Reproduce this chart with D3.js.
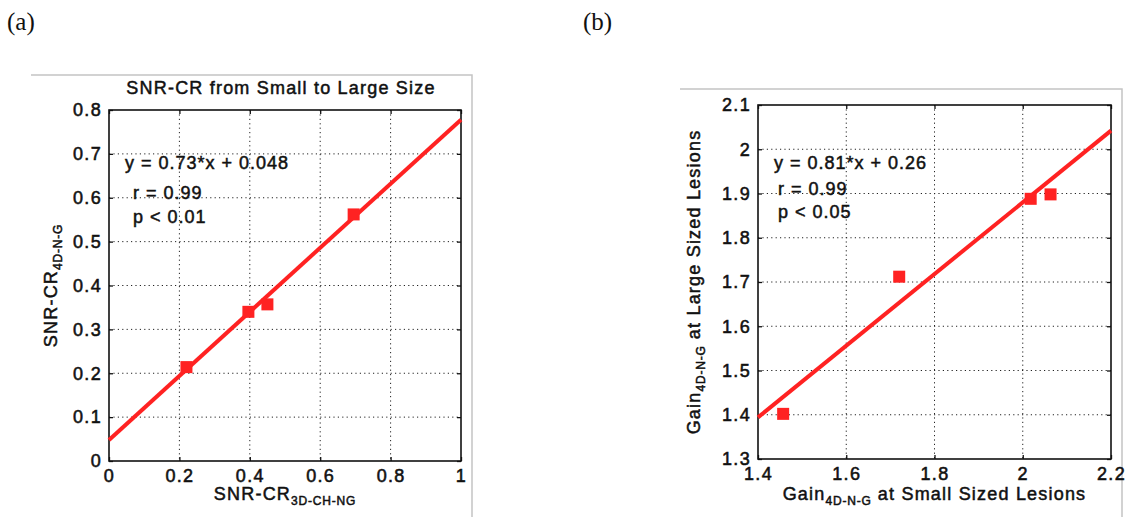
<!DOCTYPE html>
<html>
<head>
<meta charset="utf-8">
<style>
body { margin: 0; background: #fff; }
svg text { font-family: "Liberation Sans", Arial, sans-serif; fill: #111; }
.tick text { font-size: 18px; stroke: #111; stroke-width: 0.55px; letter-spacing: 1.3px; }
.ann { font-size: 18px; stroke: #111; stroke-width: 0.5px; letter-spacing: 1px; }
.lab { font-size: 18px; stroke: #111; stroke-width: 0.5px; letter-spacing: 1.2px; }
.panel-tag { font-family: "Liberation Serif", "Times New Roman", serif; font-size: 25px; }
</style>
</head>
<body>
<svg width="1129" height="517"></svg>
<script src="https://cdn.jsdelivr.net/npm/d3@7"></script>
<script>

// panel (a): SNR-CR, small vs large
var aX = [0.22, 0.396, 0.45, 0.695];
var aY = [0.214, 0.340, 0.357, 0.562];
var aFit = [0.73, 0.048];
var aXTicks = [0, 0.2, 0.4, 0.6, 0.8, 1];
var aYTicks = [0, 0.1, 0.2, 0.3, 0.4, 0.5, 0.6, 0.7, 0.8];
var aAnn = ["y = 0.73*x + 0.048", "r = 0.99", "p < 0.01"];

// panel (b): Gain, small vs large
var bX = [1.457, 1.72, 2.018, 2.063];
var bY = [1.402, 1.712, 1.888, 1.898];
var bFit = [0.81, 0.26];
var bXTicks = [1.4, 1.6, 1.8, 2, 2.2];
var bYTicks = [1.3, 1.4, 1.5, 1.6, 1.7, 1.8, 1.9, 2, 2.1];
var bAnn = ["y = 0.81*x + 0.26", "r = 0.99", "p < 0.05"];

var svg = d3.select("svg");
var red = "#ff2222";

function fmt(v) { return String(+v.toFixed(2)); }

function panel(o) {
  var x = d3.scaleLinear().domain(o.xd).range([o.left, o.left + o.w]);
  var y = d3.scaleLinear().domain(o.yd).range([o.top + o.h, o.top]);
  var g = svg.append("g");

  // gray frame of the figure copy
  g.append("path")
    .attr("d", "M" + o.frame[0] + "," + o.frame[1] + "H" + o.frame[2] + "V517")
    .attr("fill", "none").attr("stroke", "#c4c4c4").attr("stroke-width", 1.5);

  // dotted grid
  g.append("g").selectAll("line").data(o.xt.slice(1, -1)).enter().append("line")
    .attr("x1", function(d) { return x(d); }).attr("x2", function(d) { return x(d); })
    .attr("y1", o.top).attr("y2", o.top + o.h)
    .attr("stroke", "#222").attr("stroke-dasharray", "1.2,3.2");
  g.append("g").selectAll("line").data(o.yt.slice(1, -1)).enter().append("line")
    .attr("y1", function(d) { return y(d); }).attr("y2", function(d) { return y(d); })
    .attr("x1", o.left).attr("x2", o.left + o.w)
    .attr("stroke", "#222").attr("stroke-dasharray", "1.2,3.2");

  // axes, ticks pointing in
  g.append("g").attr("transform", "translate(0," + (o.top + o.h) + ")")
    .call(d3.axisBottom(x).tickValues(o.xt).tickFormat(fmt).tickSizeInner(-4).tickSizeOuter(0).tickPadding(8))
    .call(function(s) { s.select(".domain").remove(); });
  g.append("g").attr("transform", "translate(" + o.left + ",0)")
    .call(d3.axisLeft(y).tickValues(o.yt).tickFormat(fmt).tickSizeInner(-4).tickSizeOuter(0).tickPadding(7))
    .call(function(s) { s.select(".domain").remove(); });
  g.append("g").attr("transform", "translate(0," + o.top + ")")
    .call(d3.axisTop(x).tickValues(o.xt).tickFormat("").tickSizeInner(-4).tickSizeOuter(0))
    .call(function(s) { s.select(".domain").remove(); });
  g.append("g").attr("transform", "translate(" + (o.left + o.w) + ",0)")
    .call(d3.axisRight(y).tickValues(o.yt).tickFormat("").tickSizeInner(-4).tickSizeOuter(0))
    .call(function(s) { s.select(".domain").remove(); });
  g.selectAll(".tick line").attr("stroke", "#111").attr("stroke-width", 1.3);
  g.selectAll(".tick text").attr("font-family", null).attr("font-size", null);

  g.append("rect").attr("x", o.left).attr("y", o.top).attr("width", o.w).attr("height", o.h)
    .attr("fill", "none").attr("stroke", "#111").attr("stroke-width", 1.6);

  // fit line
  var ln = d3.line().x(function(d) { return x(d); }).y(function(d) { return y(o.fit[0] * d + o.fit[1]); });
  g.append("path").datum(o.xd).attr("d", ln)
    .attr("fill", "none").attr("stroke", red).attr("stroke-width", 4);

  // markers
  var s = 12;
  g.append("g").selectAll("rect").data(o.px).enter().append("rect")
    .attr("x", function(d) { return x(d) - s / 2; })
    .attr("y", function(d, i) { return y(o.py[i]) - s / 2; })
    .attr("width", s).attr("height", s).attr("fill", red);

  // annotations
  o.ann.forEach(function(t, i) {
    g.append("text").attr("class", "ann")
      .attr("x", o.annX[i]).attr("y", y(o.annY[i])).text(t);
  });

  // axis labels with subscripts
  var xl = g.append("text").attr("class", "lab").attr("text-anchor", "middle")
    .attr("x", o.left + o.w / 2).attr("y", o.xlabY);
  o.xlab.forEach(function(p) {
    xl.append("tspan").attr("baseline-shift", p[1] ? "-40%" : null)
      .attr("font-size", p[1] ? "12px" : null).attr("letter-spacing", p[1] ? "0.8px" : null).text(p[0]);
  });
  var yl = g.append("text").attr("class", "lab").attr("text-anchor", "middle")
    .attr("transform", "translate(" + o.ylabX + "," + (o.top + o.h / 2) + ") rotate(-90)");
  o.ylab.forEach(function(p) {
    yl.append("tspan").attr("baseline-shift", p[1] ? "-40%" : null)
      .attr("font-size", p[1] ? "12px" : null).attr("letter-spacing", p[1] ? "0.8px" : null).text(p[0]);
  });

  if (o.title) {
    g.append("text").attr("class", "lab").attr("text-anchor", "middle")
      .attr("x", o.left + o.w / 2 - 4).attr("y", 94).text(o.title);
  }
  svg.append("text").attr("class", "panel-tag").attr("x", o.tag[1]).attr("y", 30).text(o.tag[0]);
}

panel({
  xd: [0, 1], yd: [0, 0.8], left: 109, top: 110, w: 352, h: 351,
  xt: aXTicks, yt: aYTicks, fit: aFit, px: aX, py: aY,
  ann: aAnn, annX: [125, 133, 133], annY: [0.665, 0.597, 0.543],
  xlab: [["SNR-CR", false], ["3D-CH-NG", true]], xlabY: 500,
  ylab: [["SNR-CR", false], ["4D-N-G", true]], ylabX: 57,
  title: "SNR-CR from Small to Large Size",
  frame: [31, 75, 472], tag: ["(a)", 7]
});

panel({
  xd: [1.4, 2.2], yd: [1.3, 2.1], left: 758, top: 105, w: 353, h: 354,
  xt: bXTicks, yt: bYTicks, fit: bFit, px: bX, py: bY,
  ann: bAnn, annX: [774, 778, 778], annY: [1.955, 1.897, 1.845],
  xlab: [["Gain", false], ["4D-N-G", true], [" at Small Sized Lesions", false]], xlabY: 500,
  ylab: [["Gain", false], ["4D-N-G", true], [" at Large Sized Lesions", false]], ylabX: 700,
  title: null,
  frame: [680, 89, 1122], tag: ["(b)", 583]
});

</script>
</body>
</html>
